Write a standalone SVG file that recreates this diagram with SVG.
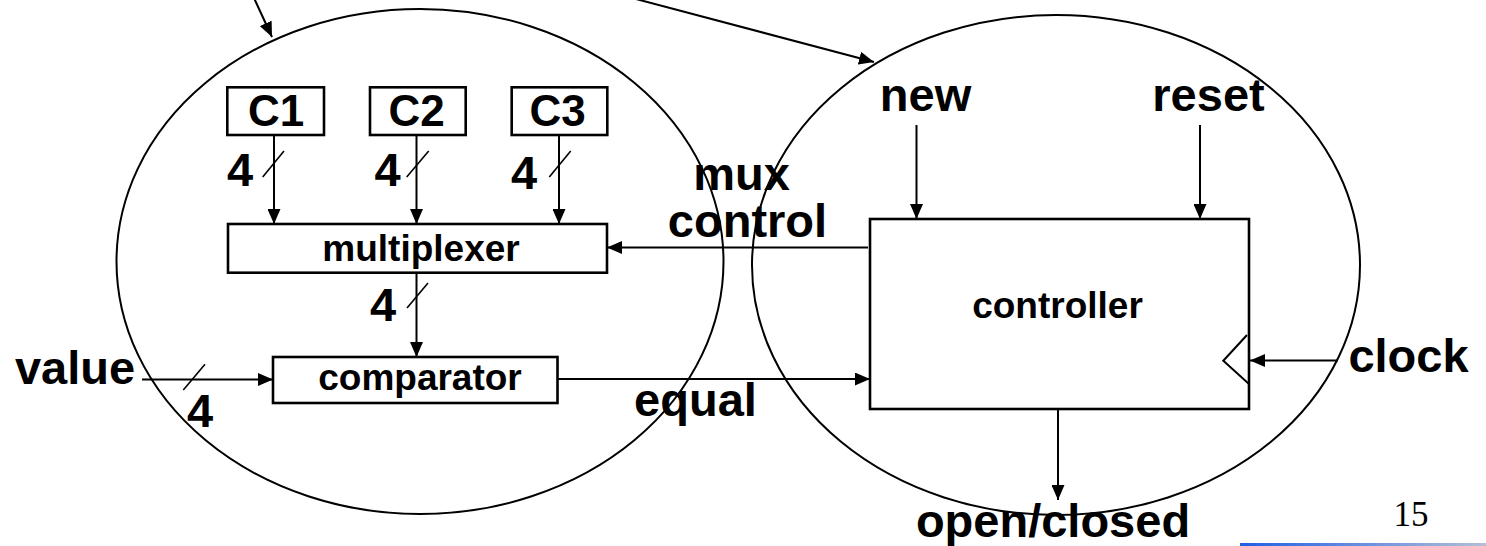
<svg xmlns="http://www.w3.org/2000/svg" width="1486" height="546" viewBox="0 0 1486 546">
<style>
.box{fill:#fff;stroke:#000;stroke-width:2.6}
.ell{fill:none;stroke:#000;stroke-width:2}
.ln{fill:none;stroke:#000;stroke-width:2}
.sl{fill:none;stroke:#000;stroke-width:1.6}
.big{font-family:"Liberation Sans",Arial,sans-serif;font-weight:bold;font-size:47px;fill:#000;text-anchor:middle}
.cl{font-family:"Liberation Sans",Arial,sans-serif;font-weight:bold;font-size:44px;fill:#000;text-anchor:middle}
.mid{font-family:"Liberation Sans",Arial,sans-serif;font-weight:bold;font-size:37px;fill:#000;text-anchor:middle}
.num{font-family:"Liberation Serif","Times New Roman",serif;font-size:35px;fill:#000;text-anchor:middle}
</style>
<defs>
<marker id="ah" markerUnits="userSpaceOnUse" markerWidth="15" markerHeight="13" refX="15" refY="6.5" orient="auto">
<path d="M0,0 L15,6.5 L0,13 z" fill="#000"/>
</marker>
<linearGradient id="bl" x1="0" y1="0" x2="1" y2="0">
<stop offset="0" stop-color="#1f5fe6"/>
<stop offset="1" stop-color="#b4bfd6"/>
</linearGradient>
</defs>
<rect width="1486" height="546" fill="#fff"/>

<g id="ellipse-left"><ellipse class="ell" cx="420" cy="261.5" rx="303.5" ry="252.5"/></g>
<g id="ellipse-right"><ellipse class="ell" cx="1056" cy="265" rx="304" ry="250"/></g>

<g id="connectors">
<line class="ln" x1="254" y1="-2" x2="272" y2="37" marker-end="url(#ah)"/>
<line class="ln" x1="636" y1="-1" x2="874" y2="62" marker-end="url(#ah)"/>
<line class="ln" x1="274" y1="135" x2="274" y2="224" marker-end="url(#ah)"/>
<line class="ln" x1="416.5" y1="135" x2="416.5" y2="224" marker-end="url(#ah)"/>
<line class="ln" x1="559" y1="135" x2="559" y2="224" marker-end="url(#ah)"/>
<line class="ln" x1="416.5" y1="273" x2="416.5" y2="357" marker-end="url(#ah)"/>
<line class="ln" x1="142" y1="379.5" x2="273" y2="379.5" marker-end="url(#ah)"/>
<line class="ln" x1="557" y1="379" x2="870" y2="379" marker-end="url(#ah)"/>
<line class="ln" x1="868" y1="247.5" x2="607" y2="247.5" marker-end="url(#ah)"/>
<line class="ln" x1="916.5" y1="125" x2="916.5" y2="219" marker-end="url(#ah)"/>
<line class="ln" x1="1200" y1="125" x2="1200" y2="219" marker-end="url(#ah)"/>
<line class="ln" x1="1338" y1="360.5" x2="1250" y2="360.5" marker-end="url(#ah)"/>
<line class="ln" x1="1058" y1="409" x2="1058" y2="500" marker-end="url(#ah)"/>
<line class="sl" x1="262.7" y1="177" x2="284" y2="151"/>
<line class="sl" x1="406.7" y1="177" x2="428.7" y2="151"/>
<line class="sl" x1="549.3" y1="177" x2="570.7" y2="151"/>
<line class="sl" x1="407" y1="308" x2="428" y2="283"/>
<line class="sl" x1="183.3" y1="390" x2="205" y2="364.3"/>
</g>

<g id="C1"><rect class="box" x="227.3" y="87.3" width="96.7" height="47.7"/><text class="cl" x="276" y="126">C1</text></g>
<g id="C2"><rect class="box" x="370" y="87.3" width="95.7" height="47.7"/><text class="cl" x="416.5" y="126">C2</text></g>
<g id="C3"><rect class="box" x="511.7" y="87.3" width="95.6" height="47.7"/><text class="cl" x="557.5" y="126">C3</text></g>
<g id="multiplexer"><rect class="box" x="228" y="224" width="379" height="48.7"/><text class="mid" x="421" y="261">multiplexer</text></g>
<g id="comparator"><rect class="box" x="273" y="357" width="284.5" height="46"/><text class="mid" x="420" y="390">comparator</text></g>
<g id="controller"><rect class="box" x="870" y="219" width="379" height="190"/><text class="mid" x="1057.5" y="318">controller</text>
<polyline class="ln" points="1247,335 1223.3,360.7 1249,384"/></g>

<g id="labels">
<text class="big" x="240" y="186">4</text>
<text class="big" x="387.5" y="186">4</text>
<text class="big" x="524" y="189">4</text>
<text class="big" x="383" y="321">4</text>
<text class="big" x="200" y="427">4</text>
<text class="big" y="190"><tspan x="741.5">mux</tspan><tspan x="747.5" dy="47">control</tspan></text>
<text class="big" x="925.5" y="111">new</text>
<text class="big" x="1208.5" y="111">reset</text>
<text class="big" x="1408.5" y="372">clock</text>
<text class="big" x="75" y="384">value</text>
<text class="big" x="695.5" y="416">equal</text>
<text class="big" x="1053" y="537">open/closed</text>
</g>

<g id="footer">
<text class="num" x="1411" y="526">15</text>
<rect x="1240" y="543" width="246" height="3" fill="url(#bl)"/>
</g>
</svg>
